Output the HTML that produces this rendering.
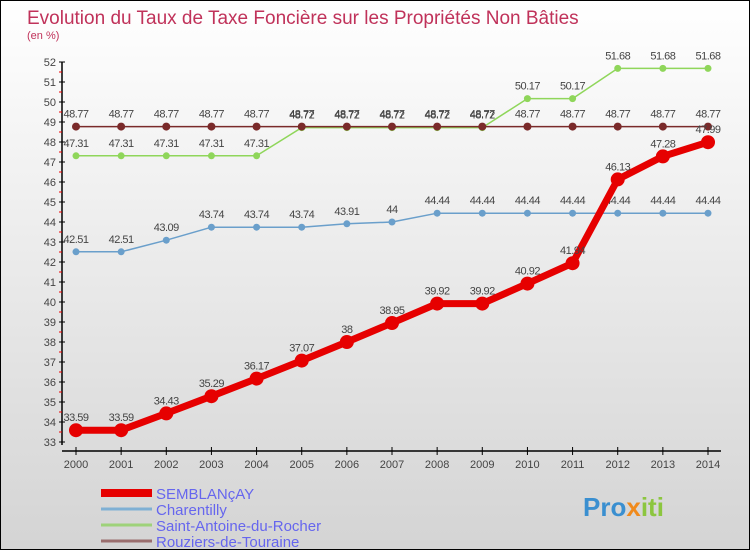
<!DOCTYPE html>
<html><head><meta charset="utf-8"><style>
body{margin:0}
#c{width:750px;height:550px;position:relative;box-sizing:border-box;border:1px solid #000;background:linear-gradient(#fff,#d4d4d4);font-family:"Liberation Sans",sans-serif;overflow:hidden}
</style></head><body>
<div id="c">
<svg id="s" width="750" height="550" style="position:absolute;left:0;top:0">
<text x="26" y="23" font-size="19" fill="#c0325a">Evolution du Taux de Taxe Foncière sur les Propriétés Non Bâties</text>
<text x="26" y="38" font-size="11" fill="#c0325a">(en %)</text>
<g id="axes"></g><g id="series"></g><g id="legend"></g>
<text x="582" y="515" font-size="26" font-weight="bold" fill="#3a8fd0">Pro<tspan fill="#f08a1c">x</tspan><tspan fill="#8cc63f">iti</tspan></text>
</svg>
</div>
<script>
const years=[2000,2001,2002,2003,2004,2005,2006,2007,2008,2009,2010,2011,2012,2013,2014];
const semblancay=[33.59,33.59,34.43,35.29,36.17,37.07,38,38.95,39.92,39.92,40.92,41.94,46.13,47.28,47.99];
const charentilly=[42.51,42.51,43.09,43.74,43.74,43.74,43.91,44,44.44,44.44,44.44,44.44,44.44,44.44,44.44];
const saintAntoine=[47.31,47.31,47.31,47.31,47.31,48.72,48.72,48.72,48.72,48.72,50.17,50.17,51.68,51.68,51.68];
const rouziers=[48.77,48.77,48.77,48.77,48.77,48.77,48.77,48.77,48.77,48.77,48.77,48.77,48.77,48.77,48.77];
const yTicks=[33,34,35,36,37,38,39,40,41,42,43,44,45,46,47,48,49,50,51,52];
const seriesNames=["SEMBLANçAY","Charentilly","Saint-Antoine-du-Rocher","Rouziers-de-Touraine"];
const NS="http://www.w3.org/2000/svg";
const x=i=>75+i*(707-75)/(years.length-1);
const y=v=>61+(52-v)*20;
function mk(t,a,p){const e=document.createElementNS(NS,t);for(const k in a)e.setAttribute(k,a[k]);p.appendChild(e);return e;}
const ax=document.getElementById('axes');
let yl=mk('line',{x1:61,y1:y(52),x2:61,y2:y(33)+3,stroke:'#000','stroke-width':1.5},ax);


yTicks.forEach(v=>{
 mk('line',{x1:58,y1:y(v),x2:64,y2:y(v),stroke:'#000'},ax);
 if(v<52)mk('line',{x1:58,y1:y(v+0.5),x2:61,y2:y(v+0.5),stroke:'#e00'},ax);
 const t=mk('text',{x:55,y:y(v)+4,'font-size':11,fill:'#444','text-anchor':'end'},ax);t.textContent=v;
 
 
});
let xl=mk('line',{x1:61,y1:450,x2:720,y2:450,stroke:'#000','stroke-width':1.5},ax);


years.forEach((yr,i)=>{
 mk('line',{x1:x(i),y1:446,x2:x(i),y2:454,stroke:'#000'},ax);
 const t=mk('text',{x:x(i),y:467,'font-size':11,fill:'#444','text-anchor':'middle'},ax);t.textContent=yr;
 
 
});
const sg=document.getElementById('series');
function draw(data,color,lw,r,name){
 const g=mk('g',{},sg);
 
 
 mk('polyline',{points:data.map((v,i)=>x(i)+','+y(v)).join(' '),fill:'none',stroke:color,'stroke-width':lw,'stroke-linejoin':'round'},g);
 data.forEach((v,i)=>{
  const c=mk('circle',{cx:x(i),cy:y(v),r:r,fill:color},g);
  
  
  const t=mk('text',{x:x(i),y:y(v)-9,'font-size':11,fill:'#444','text-anchor':'middle','letter-spacing':'-0.5'},g);t.textContent=v;
  
  
 });
}
draw(charentilly,'#6a9fcb',1.5,3.5,'charentilly-series');
draw(saintAntoine,'#8fd65a',1.5,3.5,'saint-antoine-series');
draw(rouziers,'#7a2a2a',1.5,4,'rouziers-series');
draw(semblancay,'#e60000',7,7,'semblancay-series');
const lg=document.getElementById('legend');
const lcol=['#e60000','#7fb0d4','#9ed27a','#9a6e6e'],lw=[8,3,3,3];
seriesNames.forEach((n,i)=>{
 const g=mk('g',{},lg);
 
 
 const ly=492+i*16;
 mk('line',{x1:100,y1:ly,x2:151,y2:ly,stroke:lcol[i],'stroke-width':lw[i]},g);
 const t=mk('text',{x:155,y:ly+6,'font-size':15,fill:'#6666ee'},g);t.textContent=n;
});
</script>
</body></html>
